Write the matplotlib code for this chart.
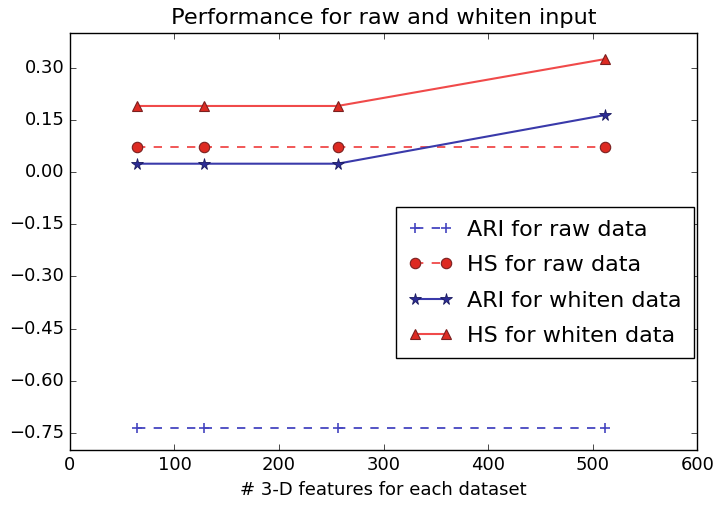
import matplotlib
matplotlib.use("Agg")
import matplotlib.pyplot as plt

plt.style.use('classic')

features = [64, 128, 256, 512]
ari_raw = [-0.735, -0.735, -0.735, -0.735]
hs_raw = [0.072, 0.072, 0.072, 0.072]
ari_whiten = [0.024, 0.024, 0.024, 0.164]
hs_whiten = [0.19, 0.19, 0.19, 0.325]
labels = ['ARI for raw data', 'HS for raw data', 'ARI for whiten data', 'HS for whiten data']
yticks = [-0.75, -0.60, -0.45, -0.30, -0.15, 0.00, 0.15, 0.30]

fig = plt.figure(figsize=(7.13, 5.07), dpi=100, facecolor='white')
ax = fig.add_axes([0.098, 0.112, 0.880, 0.823])

ms = 7.5
ax.plot(features, ari_raw, linestyle='--', marker='+', color='#4545c0', markersize=ms,
        markeredgewidth=1.2, linewidth=1.3, label=labels[0])
ax.plot(features, hs_raw, linestyle='--', marker='o', color='#f04a4a', markersize=ms,
        markerfacecolor='#dd2a22', markeredgecolor='#7a2020', markeredgewidth=0.8,
        linewidth=1.3, label=labels[1])
ax.plot(features, ari_whiten, linestyle='-', marker='*', color='#3a3aaa', markersize=ms + 1,
        markerfacecolor='#2c2c95', markeredgecolor='#1a1a60', markeredgewidth=0.6,
        linewidth=1.5, label=labels[2])
ax.plot(features, hs_whiten, linestyle='-', marker='^', color='#f04a4a', markersize=ms,
        markerfacecolor='#dd2a22', markeredgecolor='#7a2020', markeredgewidth=0.8,
        linewidth=1.5, label=labels[3])

ax.set_xlim(0, 600)
ax.set_ylim(-0.8, 0.4)
ax.set_yticks(yticks)
ax.set_yticklabels(['\u2212%.2f' % -v if v < 0 else '%.2f' % v for v in yticks])
ax.set_xticks([0, 100, 200, 300, 400, 500, 600])
ax.tick_params(labelsize=13)
ax.set_title('Performance for raw and whiten input', fontsize=16.2, y=1.005)
ax.set_xlabel('# 3-D features for each dataset', fontsize=13)

leg = ax.legend(loc='upper right', bbox_to_anchor=(0.995, 0.582), fontsize=16,
                numpoints=2, handlelength=2.0, borderaxespad=0.0,
                labelspacing=0.7, handletextpad=0.65, borderpad=0.55)
leg.get_frame().set_linewidth(1.0)

fig.savefig('out.png', dpi=100, facecolor='white')
